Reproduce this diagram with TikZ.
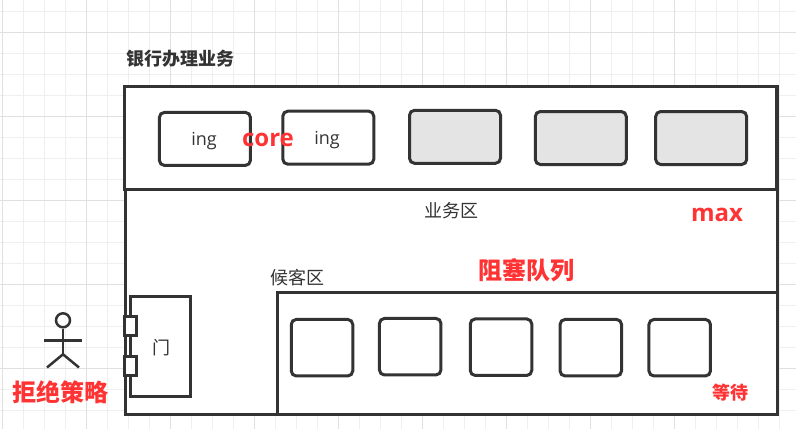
\documentclass[tikz,border=0pt]{standalone}
\usepackage{fontspec}
\setmainfont{Open Sans}
\newfontfamily\cjk{Noto Sans CJK SC}
\definecolor{inkgray}{HTML}{333333}
\definecolor{alertred}{HTML}{FF3333}
\definecolor{gridminor}{HTML}{EFEFEF}
\definecolor{gridmajor}{HTML}{E0E0E0}
\definecolor{busyfill}{HTML}{E4E4E4}
\tikzset{
    areabox/.style={draw=inkgray, line width=3pt, fill=white, inner sep=0},
    corebox/.style={draw=inkgray, line width=3pt, fill=white, rounded corners=5pt, minimum width=91pt, minimum height=53pt, inner sep=0},
    waitbox/.style={draw=inkgray, line width=3pt, fill=white, rounded corners=5pt, minimum width=61.5pt, minimum height=56.5pt, inner sep=0},
    inglabel/.style={text=inkgray, inner sep=0, font=\fontsize{18}{18}\selectfont},
    plainlabel/.style={text=inkgray, inner sep=0, font=\cjk\fontsize{18}{18}\selectfont},
    redlabel/.style={text=alertred, inner sep=0, font=\bfseries\fontsize{24}{24}\selectfont},
    redcjk/.style={text=alertred, inner sep=0, font=\cjk\bfseries\fontsize{24}{24}\selectfont}
}

\begin{document}
\begin{tikzpicture}[x=1pt,y=-1pt]
    \useasboundingbox (0,0) rectangle (796,429);

    % Draw grid
    \foreach \i in {0,...,37} {
        \draw[gridminor,line width=1pt] (2.7+\i*21,0) -- (2.7+\i*21,429);
    }
    \foreach \j in {0,...,20} {
        \draw[gridminor,line width=1pt] (0,11.3+\j*21) -- (796,11.3+\j*21);
    }
    \foreach \i in {0,...,8} {
        \draw[gridmajor,line width=1pt] (2.7+\i*84,0) -- (2.7+\i*84,429);
    }
    \foreach \j in {0,...,4} {
        \draw[gridmajor,line width=1pt] (0,32.3+\j*84) -- (796,32.3+\j*84);
    }

    % Draw areas
    \node[areabox, minimum width=652pt, minimum height=328.5pt] (bank) at (451,250.5) {};
    \node[areabox, minimum width=652.5pt, minimum height=103pt] (corearea) at (450.3,137.5) {};
    \node[areabox, minimum width=500pt, minimum height=122pt] (queuearea) at (527,353) {};

    % Draw core windows
    \node[corebox] (core1) at (204.9,138.9) {};
    \node[corebox] (core2) at (328.3,137.7) {};
    \node[corebox, fill=busyfill] (core3) at (455,136.8) {};
    \node[corebox, fill=busyfill] (core4) at (580.8,138) {};
    \node[corebox, fill=busyfill] (core5) at (701.2,138) {};
    \node[inglabel] (ing1) at (204,141.5) {ing};
    \node[inglabel] (ing2) at (327,140.5) {ing};

    % Draw waiting seats
    \node[waitbox] (wait1) at (322,347.7) {};
    \node[waitbox] (wait2) at (410.2,346.7) {};
    \node[waitbox] (wait3) at (501,347.2) {};
    \node[waitbox] (wait4) at (590.8,347.7) {};
    \node[waitbox] (wait5) at (679.7,347.7) {};

    % Draw door
    \node[areabox, minimum width=60pt, minimum height=100pt] (door) at (160.7,346.3) {};
    \node[areabox, minimum width=12.5pt, minimum height=19.5pt] (hinge1) at (130.5,326) {};
    \node[areabox, minimum width=12.5pt, minimum height=19.5pt] (hinge2) at (130.5,366) {};
    \node[plainlabel] (doorlabel) at (161.5,348) {门};

    % Draw person
    \node[circle, draw=inkgray, line width=2.5pt, minimum size=14pt, inner sep=0] (head) at (63,320.3) {};
    \coordinate (hip) at (63,354.3);
    \coordinate (armleft) at (44,340.7);
    \coordinate (armright) at (82,340.7);
    \coordinate (footleft) at (47,367.5);
    \coordinate (footright) at (79,367.5);
    \draw[inkgray, line width=2.5pt] (head) -- (hip);
    \draw[inkgray, line width=2.5pt] (armleft) -- (armright);
    \draw[inkgray, line width=2.5pt] (footleft) -- (hip) -- (footright);

    % Draw labels
    \node[plainlabel, font=\cjk\bfseries\fontsize{18}{18}\selectfont] (title) at (180,59) {银行办理业务};
    \node[redlabel] (corelabel) at (268,139.5) {core};
    \node[redlabel] (maxlabel) at (717,214.5) {max};
    \node[plainlabel] (bizlabel) at (451,211) {业务区};
    \node[plainlabel] (seatlabel) at (297,278) {候客区};
    \node[redcjk] (queuelabel) at (526,270) {阻塞队列};
    \node[redcjk, font=\cjk\bfseries\fontsize{18}{18}\selectfont] (waitlabel) at (730,393) {等待};
    \node[redcjk] (rejectlabel) at (60.5,392) {拒绝策略};
\end{tikzpicture}
\end{document}
